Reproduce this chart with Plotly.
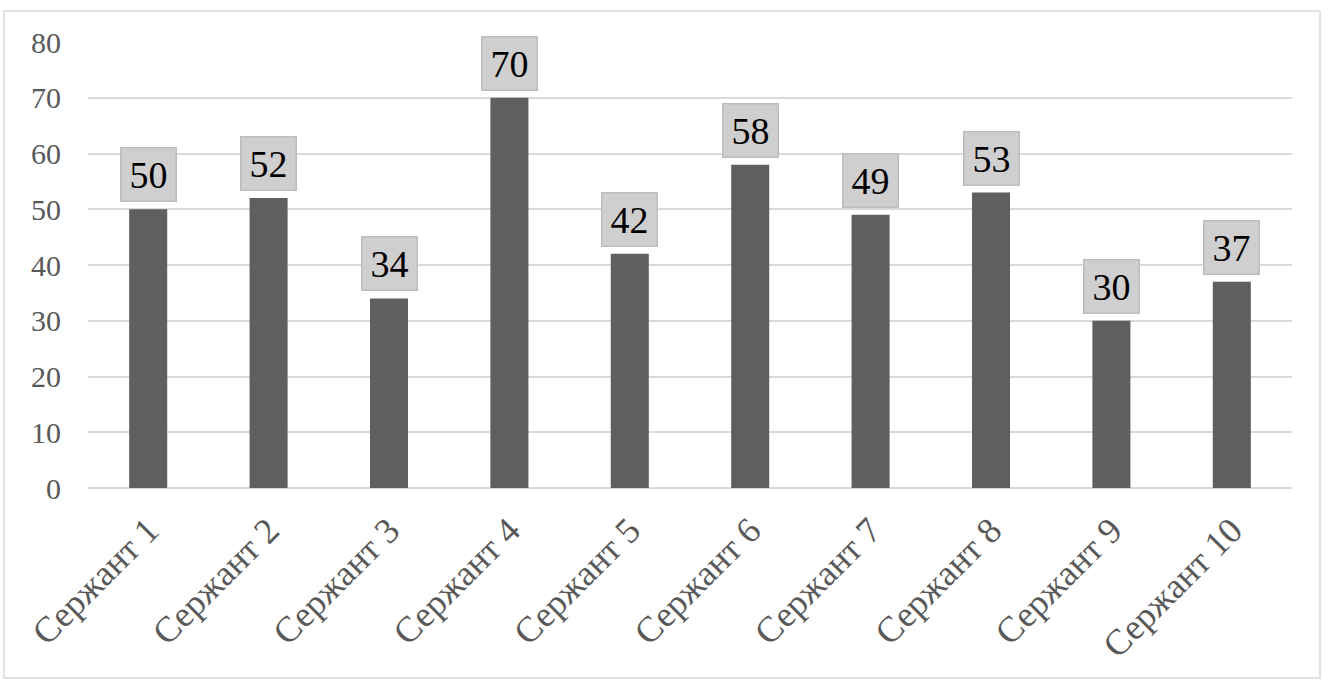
import plotly.graph_objects as go

categories = ["Сержант 1", "Сержант 2", "Сержант 3", "Сержант 4", "Сержант 5",
              "Сержант 6", "Сержант 7", "Сержант 8", "Сержант 9", "Сержант 10"]
values = [50, 52, 34, 70, 42, 58, 49, 53, 30, 37]
y_ticks = [0, 10, 20, 30, 40, 50, 60, 70, 80]

FONT = "Liberation Serif"

fig = go.Figure()
fig.add_trace(go.Bar(
    x=categories, y=values,
    marker=dict(color="#5f5f5f", line=dict(width=0)),
    showlegend=False, hoverinfo="x+y",
))

annotations = []
for c, v in zip(categories, values):
    annotations.append(dict(
        x=c, y=v, xref="x", yref="y", text=str(v), showarrow=False,
        yanchor="bottom", yshift=7,
        font=dict(family=FONT, size=38, color="#000000"),
        bgcolor="#d0cfcf", bordercolor="#bdbdbd", borderwidth=1.5,
        borderpad=4, width=46, height=44, valign="middle",
    ))

fig.update_layout(
    width=1328, height=680,
    margin=dict(l=88, r=36, t=42, b=192, autoexpand=False),
    paper_bgcolor="white", plot_bgcolor="white",
    bargap=0.684,
    font=dict(family=FONT, color="#595959"),
    annotations=annotations,
    shapes=[dict(type="rect", xref="paper", yref="paper",
                 x0=-0.0698, x1=1.0233, y0=-0.426, y1=1.0695,
                 line=dict(color="#d9d9d9", width=1.5), layer="below")],
    xaxis=dict(
        tickangle=-45, tickfont=dict(family=FONT, size=36, color="#595959"),
        showgrid=False, showline=False, ticks="", ticklabelstandoff=13,
        automargin=False,
    ),
    yaxis=dict(
        range=[0, 80], tickvals=y_ticks,
        tickfont=dict(family=FONT, size=30, color="#595959"),
        showgrid=True, gridcolor="#d9d9d9", gridwidth=1.5,
        zeroline=True, zerolinecolor="#d9d9d9", zerolinewidth=1.5,
        showline=False, ticks="", ticklabelstandoff=26, automargin=False,
    ),
)

fig.write_html("out.html")
